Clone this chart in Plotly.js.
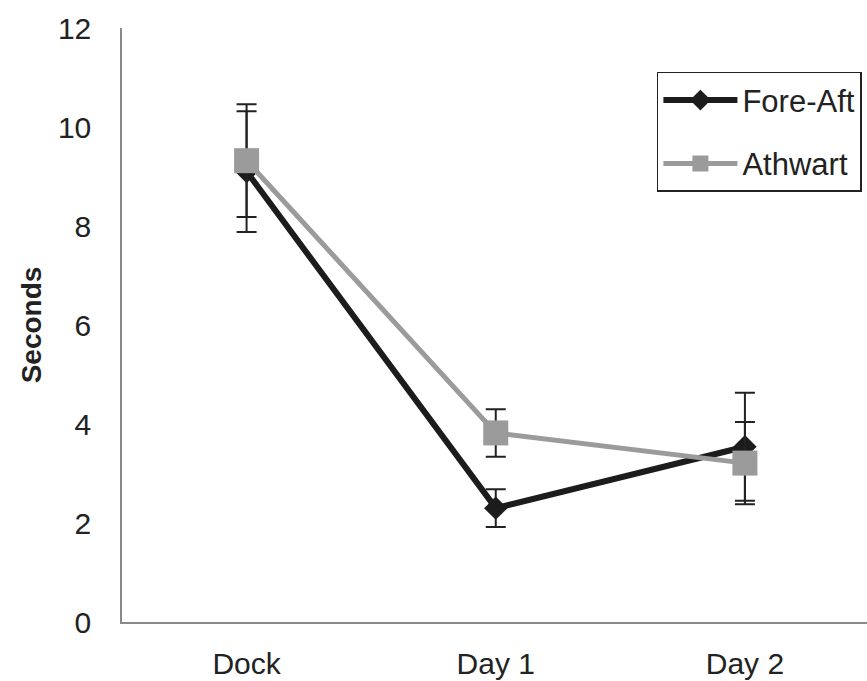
<!DOCTYPE html>
<html>
<head>
<meta charset="utf-8">
<script src="https://cdn.plot.ly/plotly-3.0.1.min.js"></script>
<style>html,body{margin:0;padding:0;background:#fff;}#chart{width:867px;height:681px;}</style>
</head>
<body>
<div id="chart"></div>
<script>
const categories = ["Dock", "Day 1", "Day 2"];
const foreAft = [9.1, 2.3, 3.54];
const foreAftErr = [1.22, 0.38, 1.09];
const athwart = [9.32, 3.82, 3.21];
const athwartErr = [1.14, 0.48, 0.83];
const yTicks = [0, 2, 4, 6, 8, 10, 12];

const xIdx = categories.map((c, i) => i);

const traces = [
  {
    x: xIdx, y: foreAft, name: "Fore-Aft", type: "scatter", mode: "lines+markers",
    legendgroup: "a",
    line: {color: "#1c1c1c", width: 6},
    marker: {symbol: "diamond", size: 18, color: "#1c1c1c"},
    error_y: {type: "data", array: foreAftErr, visible: true, color: "#222", thickness: 2, width: 10}
  },
  {
    x: xIdx, y: athwart, name: "Athwart", type: "scatter", mode: "lines+markers",
    legendgroup: "b",
    line: {color: "#9b9b9b", width: 5},
    marker: {symbol: "square", size: 25, color: "#9b9b9b"},
    error_y: {type: "data", array: athwartErr, visible: true, color: "#222", thickness: 2, width: 10}
  }
];

const layout = {
  width: 867, height: 681,
  margin: {l: 122, r: 0, t: 28, b: 59},
  paper_bgcolor: "#fff", plot_bgcolor: "#fff",
  font: {family: "Liberation Sans, Arial, sans-serif", size: 30, color: "#222"},
  showlegend: true,
  legend: {
    x: 0.718, y: 0.926, xanchor: "left", yanchor: "top",
    bordercolor: "#222", borderwidth: 1.5, bgcolor: "#fff",
    font: {size: 31, color: "#222"},
    itemwidth: 74,
    traceorder: "grouped", tracegroupgap: 20
  },
  xaxis: {
    range: [-0.5, 2.49],
    tickmode: "array", tickvals: xIdx, ticktext: categories,
    showgrid: false, zeroline: false,
    showline: true, linecolor: "#8a8a8a", linewidth: 1.5,
    ticks: "", ticklabelstandoff: 14,
    tickfont: {size: 30, color: "#222"}
  },
  yaxis: {
    range: [0, 12],
    tickmode: "array", tickvals: yTicks, ticktext: yTicks.map(String),
    showgrid: false, zeroline: false,
    showline: true, linecolor: "#8a8a8a", linewidth: 1.5,
    ticks: "", ticklabelstandoff: 23,
    tickfont: {size: 30, color: "#222"},
    title: {text: "<b>Seconds</b>", font: {size: 28, color: "#222"}, standoff: 8}
  }
};

Plotly.newPlot("chart", traces, layout, {displayModeBar: false, responsive: false});
</script>
</body>
</html>
